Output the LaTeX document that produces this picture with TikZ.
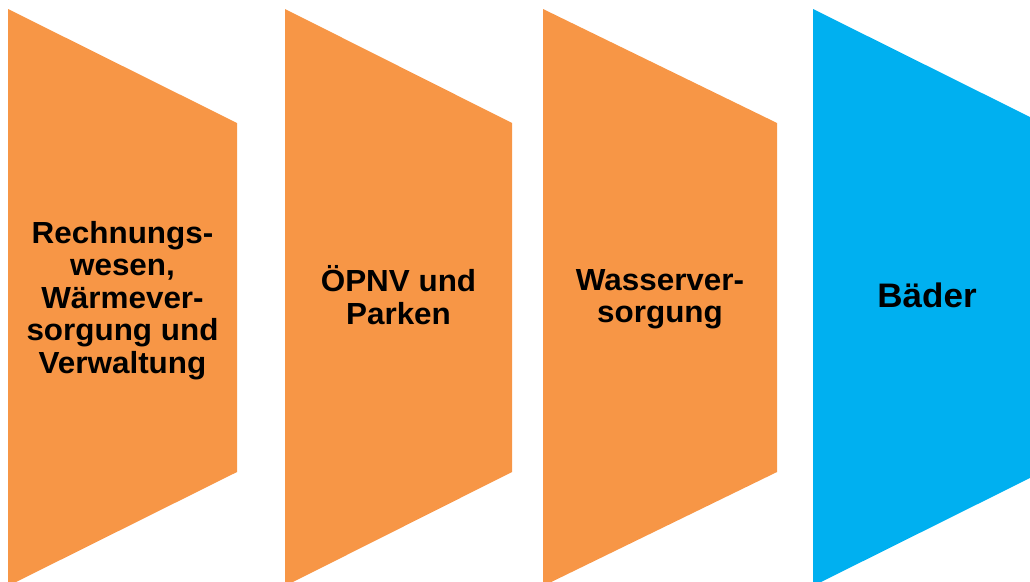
\documentclass[tikz,border=0pt]{standalone}
\usepackage{fontspec}
\setmainfont{Liberation Sans}[FakeStretch=1.03]
\definecolor{stepOrange}{HTML}{F79646}
\definecolor{stepBlue}{HTML}{00B0F0}
\tikzset{
  chevron/.style={fill=#1, draw=none},
  steplabel/.style={align=center, font=\bfseries\fontsize{30.5}{32.5}\selectfont, inner sep=0pt},
}
\begin{document}
\begin{tikzpicture}[x=1pt, y=-1pt]
            \useasboundingbox (0,0) rectangle (1030,581);
            \clip (0,0) rectangle (1030,581);
            \fill[chevron=stepOrange] (8,9) --(237,123) --(237,472) --(8,586) --cycle;
            \fill[chevron=stepOrange] (285,9) --(512,123) --(512,472) --(285,586) --cycle;
            \fill[chevron=stepOrange] (543,9) --(777,123) --(777,472) --(543,586) --cycle;
            \fill[chevron=stepBlue] (813,9) --(1042,123) --(1042,472) --(813,586) --cycle;
            \node[steplabel] (rechnung) at (122.5,300.5) {Rechnungs-\\wesen,\\Wärmever-\\sorgung und\\Verwaltung};
            \node[steplabel] (oepnv) at (398.5,295) {ÖPNV und\\Parken};
            \node[steplabel] (wasser) at (660,299) {Wasserver-\\sorgung};
            \node[steplabel, font=\bfseries\fontsize{34}{38}\selectfont] (baeder) at (927,295) {Bäder};
        \end{tikzpicture}
\end{document}
